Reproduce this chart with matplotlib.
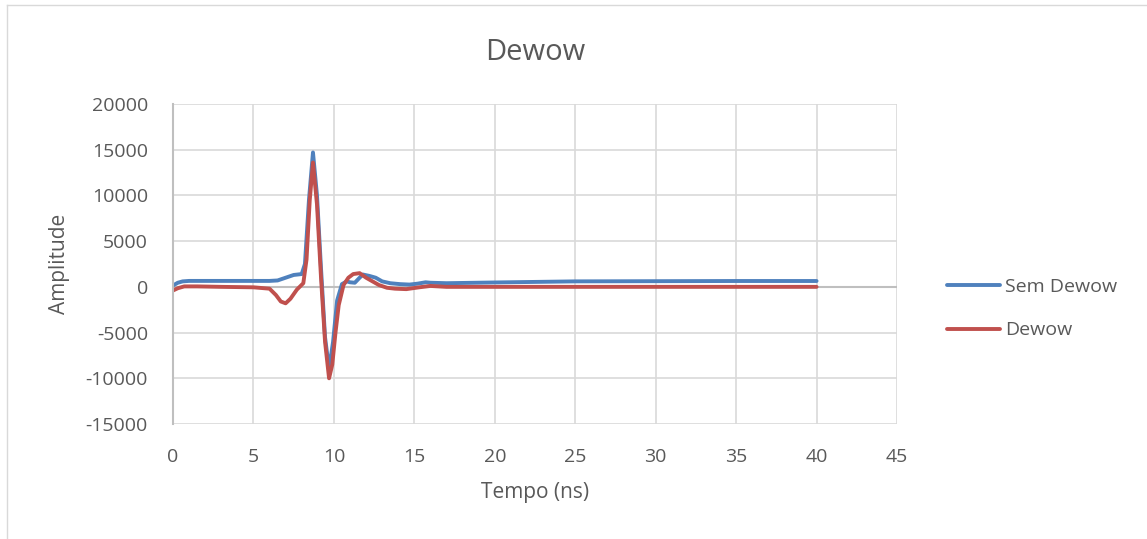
import matplotlib.pyplot as plt
from matplotlib.lines import Line2D

# tempo (ns) e amplitudes
tempo_sem = [0, 0.3, 0.6, 1.0, 3.0, 6.0, 6.5, 7.0, 7.5, 8.0, 8.2, 8.45, 8.7, 8.95, 9.2, 9.45,
             9.7, 9.95, 10.2, 10.5, 10.8, 11.0, 11.3, 11.6, 11.8, 12.2, 12.6, 13.0, 13.5, 14.1,
             14.7, 15.2, 15.7, 16.0, 17.0, 20.0, 25.0, 30.0, 35.0, 40.0]
amp_sem = [150, 450, 600, 650, 650, 650, 700, 1000, 1300, 1400, 2500, 9500, 14700, 10000, 2000,
           -5500, -9000, -6000, -1500, 300, 600, 500, 450, 1000, 1350, 1200, 1000, 600, 400, 300,
           250, 350, 500, 450, 400, 480, 600, 620, 640, 640]

tempo_dew = [0, 0.3, 0.7, 1.5, 3.0, 5.0, 6.0, 6.4, 6.7, 7.0, 7.3, 7.7, 8.1, 8.3, 8.5, 8.7,
             8.95, 9.2, 9.45, 9.7, 9.9, 10.1, 10.3, 10.6, 10.9, 11.2, 11.6, 12.0, 12.4, 12.8,
             13.3, 13.8, 14.5, 15.3, 16.0, 17.0, 20.0, 25.0, 30.0, 40.0]
amp_dew = [-400, -150, 50, 50, 0, -50, -200, -900, -1600, -1800, -1300, -300, 400, 3000, 9500, 13600,
           9000, 1000, -6000, -10000, -8500, -5000, -2000, 200, 1000, 1400, 1500, 1000, 600, 200,
           -100, -200, -250, -50, 100, 0, 0, 0, 0, 0]

cinza = '#595959'
plt.rcParams['font.family'] = ['Open Sans', 'DejaVu Sans']
plt.rcParams['axes.unicode_minus'] = False

fig = plt.figure(figsize=(11.47, 5.39), dpi=100)
ax = fig.add_axes([173 / 1147, 1 - 424 / 539, (897 - 173) / 1147, (424 - 104) / 539])

ax.plot(tempo_sem, amp_sem, color='#4F81BD', lw=2.8, label='Sem Dewow', solid_capstyle='round')
ax.plot(tempo_dew, amp_dew, color='#C0504D', lw=2.8, label='Dewow', solid_capstyle='round')

ax.set_xlim(0, 45)
ax.set_ylim(-15000, 20000)
ax.set_xticks(range(0, 46, 5))
ax.set_yticks(range(-15000, 20001, 5000))
ax.grid(True, color='#D9D9D9', lw=1.2)
ax.set_axisbelow(True)
ax.axhline(0, color='#BFBFBF', lw=1.5, zorder=1)
for s in ['top', 'right', 'bottom']:
    ax.spines[s].set_visible(False)
ax.spines['left'].set_color('#BFBFBF')
ax.spines['left'].set_linewidth(1.5)
ax.tick_params(length=0, labelsize=14, labelcolor=cinza)
ax.tick_params(axis='x', pad=17)
ax.tick_params(axis='y', pad=18)

ax.set_title('Dewow', fontsize=21, color=cinza, pad=32)
ax.set_xlabel('Tempo (ns)', fontsize=15, color=cinza, labelpad=12)
ax.set_ylabel('Amplitude', fontsize=15, color=cinza, labelpad=11)

ax.legend(loc='center left', bbox_to_anchor=(1.045, 0.36), frameon=False, fontsize=14,
          labelcolor=cinza, handlelength=2.7, handletextpad=0.3, labelspacing=1.3)

# moldura do grafico
fig.add_artist(Line2D([7 / 1147, 1], [1 - 5 / 539, 1 - 5 / 539], color='#D9D9D9', lw=1))
fig.add_artist(Line2D([7 / 1147, 7 / 1147], [0, 1 - 5 / 539], color='#D9D9D9', lw=1))

fig.savefig('out.png', dpi=100)
